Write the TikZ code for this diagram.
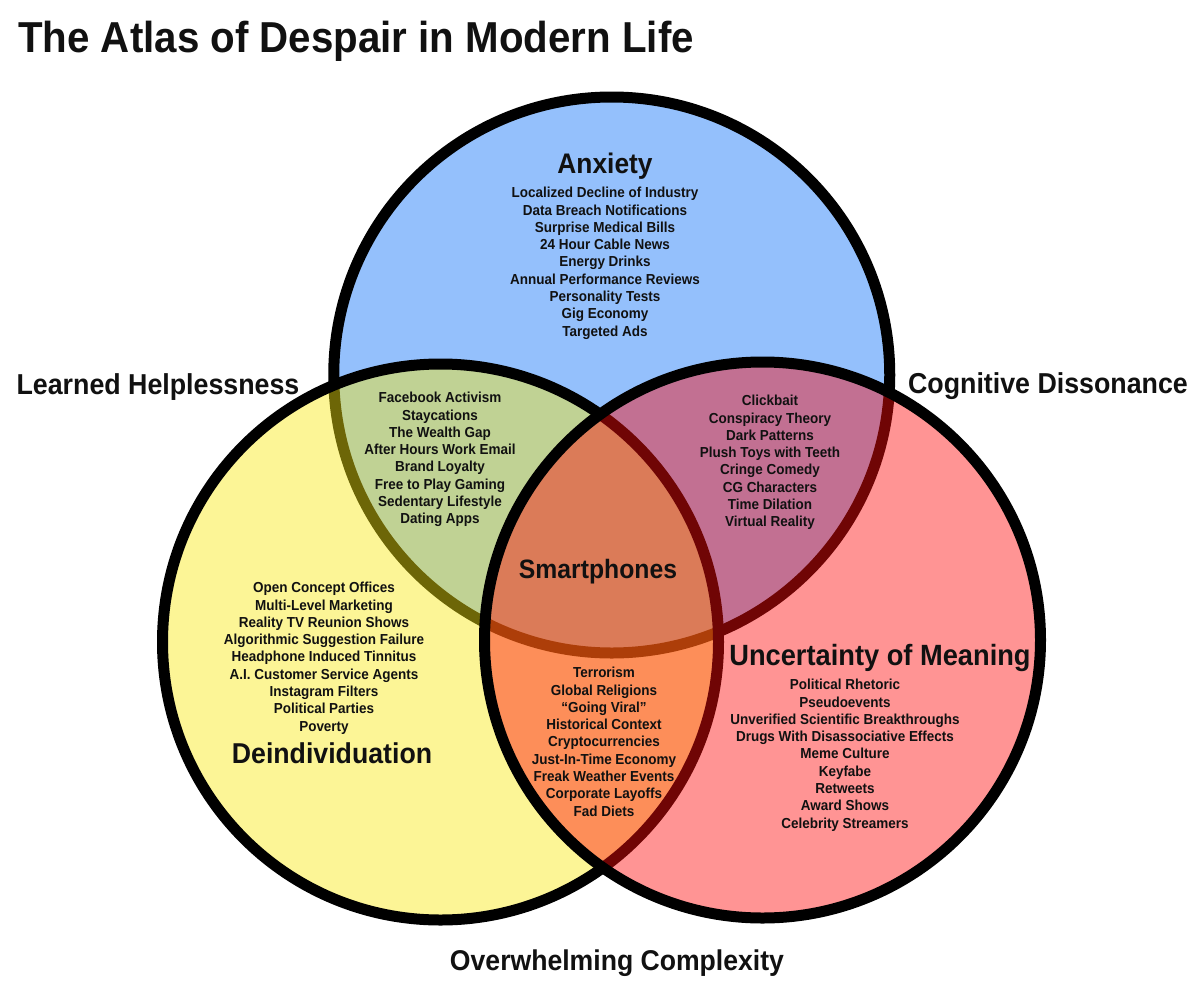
\documentclass[tikz,border=0pt]{standalone}
\usepackage{fontspec}
\setmainfont[FakeStretch=0.93]{Liberation Sans}
\definecolor{cblue}{RGB}{148,192,252}
\definecolor{cyel}{RGB}{250,234,16}
\definecolor{cred}{RGB}{255,12,12}
\definecolor{ink}{RGB}{17,17,17}
\tikzset{
  ring/.style={circle, inner sep=0pt, outer sep=0pt, minimum size=556pt, draw=black, line width=11pt},
  head/.style={inner sep=0pt, anchor=base, text=ink, font=\bfseries\fontsize{#1}{#1}\selectfont},
  items/.style={inner sep=0pt, anchor=north, align=center, text=ink, font=\bfseries\fontsize{14.5}{17.3}\selectfont},
}
\begin{document}
\begin{tikzpicture}[x=1pt,y=-1pt]
\useasboundingbox (0,0) rectangle (1200,1002);
\fill[white] (0,0) rectangle (1200,1002);
% circles
\node[ring, fill=cblue] (blueC) at (611.75,375) {};
\node[ring, fill=cyel, fill opacity=0.44] (yelC) at (440.5,642) {};
\node[ring, fill=cred, fill opacity=0.44] (redC) at (762.5,640) {};
% title
\node[inner sep=0pt, anchor=base west, text=ink, font=\bfseries\fontsize{43.3}{43.3}\selectfont] (title) at (18,52) {The Atlas of Despair in Modern Life};
% headings
\node[head=28.3] (anx) at (605,173) {Anxiety};
\node[head=28.8] (learn) at (158,394) {Learned Helplessness};
\node[head=28.8] (cog) at (1048,393) {Cognitive Dissonance};
\node[head=26.6] (smart) at (598,578) {Smartphones};
\node[head=28.7] (deind) at (332,763) {Deindividuation};
\node[head=29.3] (unc) at (880,665) {Uncertainty of Meaning};
\node[head=28.6] (over) at (617,970) {Overwhelming Complexity};
% lists
\node[items] (anxL) at (605,187) {Localized Decline of Industry\\Data Breach Notifications\\Surprise Medical Bills\\24 Hour Cable News\\Energy Drinks\\Annual Performance Reviews\\Personality Tests\\Gig Economy\\Targeted Ads};
\node[items] (grnL) at (440,392) {Facebook Activism\\Staycations\\The Wealth Gap\\After Hours Work Email\\Brand Loyalty\\Free to Play Gaming\\Sedentary Lifestyle\\Dating Apps};
\node[items] (purL) at (770,395) {Clickbait\\Conspiracy Theory\\Dark Patterns\\Plush Toys with Teeth\\Cringe Comedy\\CG Characters\\Time Dilation\\Virtual Reality};
\node[items] (yelL) at (324,582) {Open Concept Offices\\Multi-Level Marketing\\Reality TV Reunion Shows\\Algorithmic Suggestion Failure\\Headphone Induced Tinnitus\\A.I. Customer Service Agents\\Instagram Filters\\Political Parties\\Poverty};
\node[items] (orgL) at (604,667) {Terrorism\\Global Religions\\“Going Viral”\\Historical Context\\Cryptocurrencies\\Just-In-Time Economy\\Freak Weather Events\\Corporate Layoffs\\Fad Diets};
\node[items] (redL) at (845,679) {Political Rhetoric\\Pseudoevents\\Unverified Scientific Breakthroughs\\Drugs With Disassociative Effects\\Meme Culture\\Keyfabe\\Retweets\\Award Shows\\Celebrity Streamers};
\end{tikzpicture}
\end{document}
